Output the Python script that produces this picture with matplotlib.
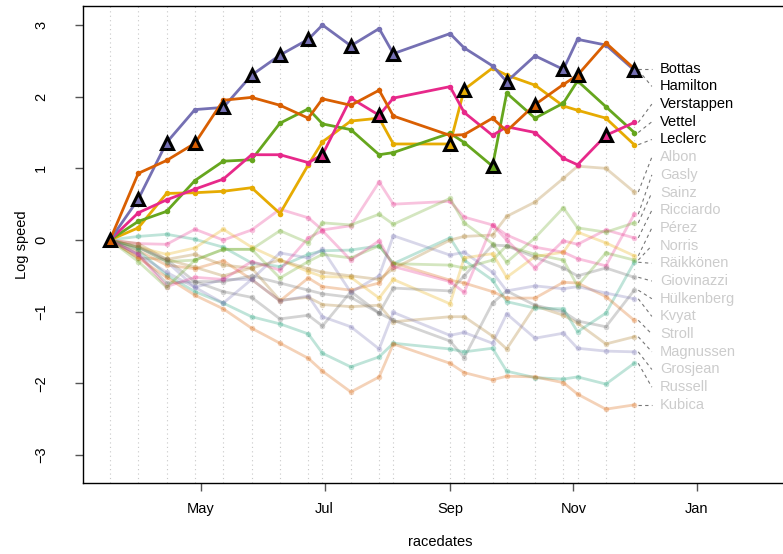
import datetime as dt
import matplotlib
matplotlib.use("Agg")
import matplotlib.pyplot as plt
import matplotlib.dates as mdates

plt.rcParams['font.family'] = ['Liberation Sans', 'DejaVu Sans']

race_dates = ["2019-03-17", "2019-03-31", "2019-04-14", "2019-04-28", "2019-05-12",
              "2019-05-26", "2019-06-09", "2019-06-23", "2019-06-30", "2019-07-14",
              "2019-07-28", "2019-08-04", "2019-09-01", "2019-09-08", "2019-09-22",
              "2019-09-29", "2019-10-13", "2019-10-27", "2019-11-03", "2019-11-17",
              "2019-12-01"]

winners = ["Bottas", "Hamilton", "Hamilton", "Bottas", "Hamilton", "Hamilton", "Hamilton",
           "Hamilton", "Verstappen", "Hamilton", "Verstappen", "Hamilton", "Leclerc",
           "Leclerc", "Vettel", "Hamilton", "Bottas", "Hamilton", "Bottas", "Verstappen",
           "Hamilton"]

# log speed per driver after each race
bottas = [0, 0.93, 1.11, 1.35, 1.95, 1.99, 1.88, 1.70, 1.97, 1.88, 2.09, 1.73, 1.46, 1.47,
          1.70, 1.52, 1.89, 2.17, 2.30, 2.75, 2.39]
hamilton = [0, 0.57, 1.36, 1.82, 1.85, 2.30, 2.58, 2.80, 3.00, 2.71, 2.95, 2.60, 2.88, 2.68,
            2.43, 2.21, 2.57, 2.38, 2.80, 2.72, 2.37]
verstappen = [0, 0.38, 0.56, 0.71, 0.85, 1.19, 1.19, 1.08, 1.19, 1.98, 1.74, 1.98, 2.14, 1.78,
              1.46, 1.58, 1.50, 1.14, 1.05, 1.46, 1.64]
vettel = [0, 0.26, 0.40, 0.83, 1.10, 1.12, 1.63, 1.83, 1.62, 1.54, 1.19, 1.22, 1.49, 1.36,
          1.03, 2.05, 1.70, 1.91, 2.22, 1.86, 1.50]
leclerc = [0, 0.17, 0.65, 0.66, 0.68, 0.73, 0.37, 1.05, 1.37, 1.66, 1.70, 1.34, 1.34, 2.10,
           2.40, 2.30, 2.16, 1.87, 1.81, 1.70, 1.33]
magnussen = [0, -0.25, -0.27, -0.38, -0.50, -0.39, -0.84, -0.80, -0.90, -0.93, -0.91, -1.14,
             -1.07, -1.07, -1.34, -1.52, -0.92, -1.05, -1.16, -1.45, -1.35]
hulkenberg = [0, -0.20, -0.60, -0.58, -0.72, -0.80, -1.10, -1.05, -1.20, -0.72, -1.02, -1.12,
              -1.41, -1.64, -0.88, -0.71, -0.91, -1.00, -1.13, -1.21, -0.70]
raikkonen = [0, 0.05, 0.08, 0.01, -0.10, -0.32, -0.37, -0.20, -0.15, -0.14, -0.08, -0.33,
             0.03, -0.28, -0.56, -0.86, -0.95, -0.96, -1.28, -1.02, -0.31]
stroll = [0, -0.15, -0.35, -0.40, -0.29, -0.55, -0.85, -0.53, -0.65, -0.70, -0.60, -0.32,
          -0.56, -0.60, -0.72, -0.81, -0.81, -0.59, -0.60, -0.79, -1.12]
kvyat = [0, -0.10, -0.30, -0.66, -0.55, -0.55, -0.18, -0.25, -0.13, -0.73, -0.50, 0.06,
         -0.21, -0.17, -0.45, -0.71, -0.64, -0.68, -0.65, -0.74, -0.82]
gasly = [0, -0.05, -0.06, 0.15, 0.00, 0.14, 0.43, 0.31, 0.14, 0.20, 0.81, 0.50, 0.54, 0.32,
         0.21, 0.07, -0.10, -0.17, -0.26, -0.36, 0.36]
norris = [0, -0.10, -0.30, -0.28, -0.13, -0.13, -0.53, -0.30, -0.20, -0.25, -0.08, -0.33,
          -0.35, -0.39, -0.28, -0.08, -0.20, -0.28, -0.64, -0.18, -0.28]
perez = [0, -0.10, -0.20, -0.11, 0.15, -0.10, -0.28, -0.44, -0.51, -0.52, -0.81, -0.55,
         -0.89, -0.25, -0.19, -0.52, -0.23, -0.17, 0.11, -0.04, -0.22]
albon = [0, -0.05, -0.27, -0.20, -0.35, -0.39, -0.28, -0.40, -0.45, -0.50, -0.55, -0.40,
         0.00, 0.05, 0.07, 0.33, 0.53, 0.86, 1.03, 1.00, 0.67]
giovinazzi = [0, -0.10, -0.27, -0.58, -0.58, -0.50, -0.60, -0.70, -0.75, -0.80, -1.02, -0.67,
              -0.71, -0.50, -0.07, -0.08, -0.24, -0.39, -0.50, -0.39, -0.52]
russell = [0, -0.14, -0.49, -0.72, -0.88, -1.07, -1.17, -1.31, -1.58, -1.77, -1.63, -1.44,
           -1.52, -1.56, -1.51, -1.83, -1.92, -1.94, -1.91, -2.01, -1.72]
kubica = [0, -0.25, -0.52, -0.77, -0.96, -1.23, -1.44, -1.65, -1.83, -2.12, -1.91, -1.45,
          -1.72, -1.85, -1.95, -1.90, -1.91, -1.99, -2.15, -2.36, -2.30]
grosjean = [0, -0.20, -0.45, -0.66, -0.88, -0.55, -0.85, -0.78, -1.07, -1.21, -1.52, -1.01,
            -1.33, -1.29, -1.44, -1.03, -1.37, -1.30, -1.51, -1.55, -1.56]
ricciardo = [0, -0.20, -0.65, -0.52, -0.55, -0.30, -0.42, 0.03, 0.13, -0.28, -0.01, -0.37,
             -0.58, -0.73, 0.21, 0.00, -0.39, -0.01, -0.06, 0.14, 0.03]
sainz = [0, -0.30, -0.66, -0.28, -0.13, -0.13, 0.13, -0.04, 0.24, 0.21, 0.36, 0.22, 0.58,
         0.24, -0.05, -0.31, 0.03, 0.45, 0.17, 0.11, 0.24]

# drivers in finishing order of the first race, which sets the colour cycle
names = ["Bottas", "Hamilton", "Verstappen", "Vettel", "Leclerc", "Magnussen", "Hülkenberg",
         "Räikkönen", "Stroll", "Kvyat", "Gasly", "Norris", "Pérez", "Albon", "Giovinazzi",
         "Russell", "Kubica", "Grosjean", "Ricciardo", "Sainz"]
series = [bottas, hamilton, verstappen, vettel, leclerc, magnussen, hulkenberg, raikkonen,
          stroll, kvyat, gasly, norris, perez, albon, giovinazzi, russell, kubica, grosjean,
          ricciardo, sainz]
highlight = ["Bottas", "Hamilton", "Verstappen", "Vettel", "Leclerc"]

dark2 = ["#1B9E77", "#D95F02", "#7570B3", "#E7298A", "#66A61E", "#E6AB02", "#A6761D", "#666666"]
colors = {n: dark2[(i + 1) % 8] for i, n in enumerate(names)}
values = dict(zip(names, series))

dates = [dt.datetime.strptime(d, "%Y-%m-%d") for d in race_dates]
x = mdates.date2num(dates)

fig = plt.figure(figsize=(7.83, 5.54), dpi=100)
ax = fig.add_axes([83 / 783, 1 - 483 / 554, 715 / 783, 477 / 554])

may1 = mdates.date2num(dt.datetime(2019, 5, 1))
ax.set_xlim(may1 - 58.3, may1 + 294.9)
ax.set_ylim(-3.39, 3.265)

for xi in x:
    ax.axvline(xi, color="#c8c8c8", lw=0.8, ls=(0, (1, 3)), zorder=0)

# background drivers first, faded
for n in names:
    if n in highlight:
        continue
    ax.plot(x, values[n], color=colors[n], lw=2, alpha=0.28, marker="o", ms=4,
            mec="none", zorder=1)
for n in reversed(highlight):
    ax.plot(x, values[n], color=colors[n], lw=2, marker="o", ms=4, mec="none", zorder=2)

# race winners
for k, (xi, w) in enumerate(zip(x, winners)):
    ax.plot(xi, values[w][k], marker="^", ms=8.5, mfc=colors[w], mec="black", mew=2.2,
            zorder=4)

# labels, spread evenly in order of final value
order = sorted(names, key=lambda n: -values[n][-1])
top = values[order[0]][-1]
bot = values[order[-1]][-1]
step = (top - bot) / (len(order) - 1)
for j, n in enumerate(order):
    ly = top - j * step
    ax.plot([x[-1] + 2, x[-1] + 8.7], [values[n][-1], ly], color="#777777", lw=0.8,
            ls=(0, (3, 3)), zorder=1)
    ax.text(x[-1] + 12.8, ly, n, va="center", ha="left", fontsize=10.5,
            color="black" if n in highlight else "#cccccc")

ticks = [dt.datetime(2019, 5, 1), dt.datetime(2019, 7, 1), dt.datetime(2019, 9, 1),
         dt.datetime(2019, 11, 1), dt.datetime(2020, 1, 1)]
ax.set_xticks(mdates.date2num(ticks))
ax.set_xticklabels(["May", "Jul", "Sep", "Nov", "Jan"])
ax.set_yticks([-3, -2, -1, 0, 1, 2, 3])
ax.set_yticklabels(["\u22123", "\u22122", "\u22121", "0", "1", "2", "3"], rotation=90,
                   va="center")
ax.tick_params(axis="both", direction="out", length=6, width=1, color="#555555",
               labelsize=10.5)
ax.tick_params(axis="x", pad=8)
ax.tick_params(axis="y", pad=19)
ax.set_xlabel("racedates", fontsize=10.5, labelpad=13.5)
ax.set_ylabel("Log speed", fontsize=10.5, labelpad=4)
for s in ax.spines.values():
    s.set_linewidth(1)

fig.savefig("out.png", dpi=100)
